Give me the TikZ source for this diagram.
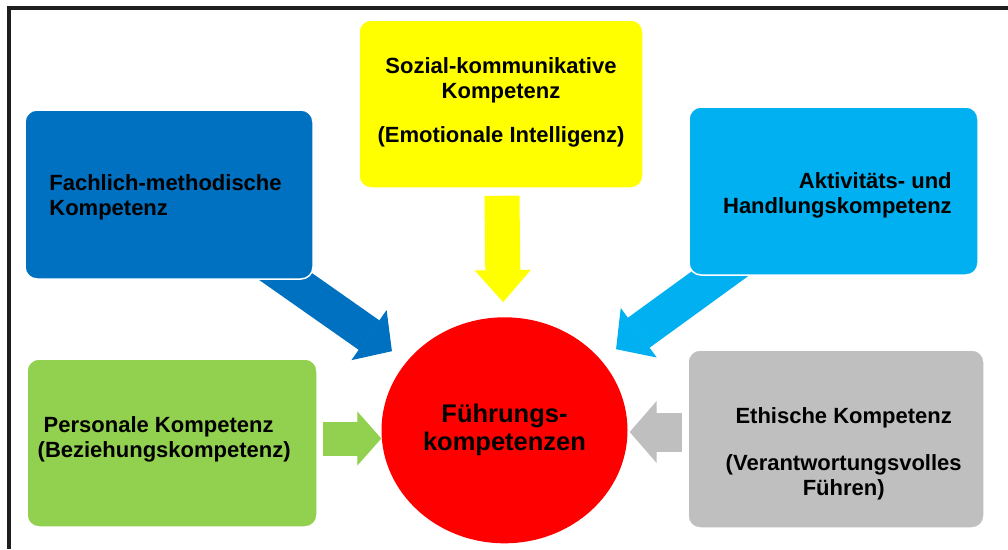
\documentclass[tikz,border=0pt]{standalone}
\usepackage{fontspec}
\setmainfont{Liberation Sans}
\usetikzlibrary{arrows.meta,shapes.geometric,backgrounds}
\definecolor{fachBlue}{HTML}{0070C0}
\definecolor{aktBlue}{HTML}{00B0F0}
\definecolor{sozYellow}{HTML}{FFFF00}
\definecolor{persGreen}{HTML}{92D050}
\definecolor{ethGray}{HTML}{BFBFBF}
\definecolor{coreRed}{HTML}{FF0000}
\definecolor{frameBlack}{HTML}{1E1E1E}

\begin{document}
\begin{tikzpicture}[x=1pt, y=-1pt,
  box/.style={rectangle, rounded corners=12pt, draw=white, line width=1.5pt},
  boxtext/.style={inner sep=0pt, font=\bfseries\fontsize{22}{25}\selectfont},
  flow/.style n args={3}{line width=#1, -{Triangle[width=#2, length=#3, line width=1.2pt]}}]
  \useasboundingbox (0,0) rectangle (1008,549);
  \pgfmathsetmacro{\boxH}{168};
  %% Frame
  \draw[frameBlack, line width=3.5pt] (8.75,549) -- (8.75,8) -- (1008,8);
  %% Competence boxes
  \node[box, fill=fachBlue, minimum width=288pt, minimum height=169pt] (fachBox) at (169,194.5) {};
  \node[box, fill=sozYellow, minimum width=284pt, minimum height=\boxH pt] (sozBox) at (501,104) {};
  \node[box, fill=aktBlue, minimum width=289pt, minimum height=\boxH pt] (aktBox) at (833.5,191) {};
  \node[box, fill=persGreen, minimum width=290pt, minimum height=\boxH pt] (persBox) at (172,443) {};
  \node[box, fill=ethGray, minimum width=296pt, minimum height=178pt] (ethBox) at (836,439) {};
  %% Centre
  \node[ellipse, fill=coreRed, minimum width=246pt, minimum height=226pt, inner sep=0pt,
    align=center, font=\bfseries\fontsize{25.5}{28}\selectfont] (core) at (504.5,430.3) {Führungs-\\kompetenzen};
  %% Box texts
  \node[boxtext, align=left] (fachText) at (165.5,196.9) {Fachlich-methodische\\Kompetenz};
  \node[boxtext, align=center] (sozText) at (501,101.9) {Sozial-kommunikative\\Kompetenz\\[19pt](Emotionale Intelligenz)};
  \node[boxtext, align=right] (aktText) at (837.4,195.1) {Aktivitäts- und\\Handlungskompetenz};
  \node[boxtext, align=left] (persText) at (164.2,439.4) {\hspace*{6pt}Personale Kompetenz\\(Beziehungskompetenz)};
  \node[boxtext, align=center] (ethText) at (843.7,453.5) {Ethische Kompetenz\\[21.7pt](Verantwortungsvolles\\Führen)};
  %% Block arrows
  \begin{pgfonlayer}{background}
    \draw[fachBlue, flow={36pt}{61pt}{28pt}, shorten <=-40pt, shorten >=18pt] (fachBox) -- (core);
    \draw[aktBlue, flow={37pt}{61pt}{28pt}, shorten <=-40pt, shorten >=18.5pt] (aktBox) -- (core);
    \draw[sozYellow, flow={35pt}{56pt}{32pt}, shorten <=7pt, shorten >=15pt] (sozBox) -- (core);
    \draw[persGreen, flow={34pt}{54pt}{24pt}, shorten <=5pt] ([yshift=4.5pt]persBox.east) -- ([yshift=4.5pt]persBox.east -| core.west);
    \draw[ethGray, flow={39pt}{62pt}{27pt}, shorten <=5pt, shorten >=2pt] ([yshift=7pt]ethBox.west) -- ([yshift=7pt]ethBox.west -| core.east);
  \end{pgfonlayer}
\end{tikzpicture}
\end{document}
